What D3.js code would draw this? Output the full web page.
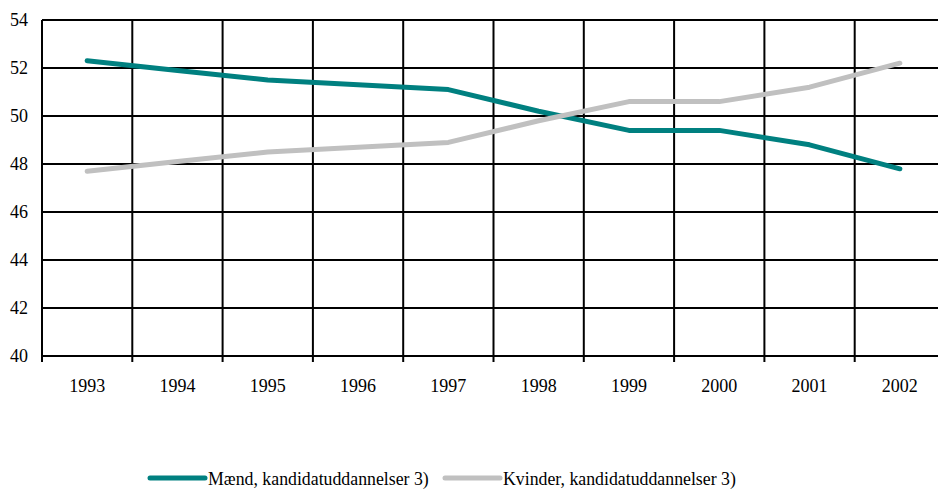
<!DOCTYPE html>
<html><head><meta charset="utf-8">
<script src="https://cdn.jsdelivr.net/npm/d3@7"></script>
</head><body style="margin:0">
<svg id="c" width="938" height="489" style="font-family:'Liberation Serif','Times New Roman',serif"></svg>
<script>
const years = ["1993","1994","1995","1996","1997","1998","1999","2000","2001","2002"];
const maend = [52.3,51.9,51.5,51.3,51.1,50.2,49.4,49.4,48.8,47.8];
const kvinder = [47.7,48.1,48.5,48.7,48.9,49.8,50.6,50.6,51.2,52.2];
const yTicks = [40,42,44,46,48,50,52,54];
const seriesNames = ["Mænd, kandidatuddannelser 3)","Kvinder, kandidatuddannelser 3)"];
const colors = ["#008080","#c0c0c0"];

(function(){
const svg = d3.select("#c");
const pL = 42, pR = 945, pT = 20, pB = 356;
const FF = "'Liberation Serif','Times New Roman',serif";
const x = d3.scaleBand().domain(years).range([pL, pR]);
const y = d3.scaleLinear().domain([40,54]).range([pB, pT]);

svg.append("g").selectAll("line").data(yTicks).join("line")
  .attr("x1", pL).attr("x2", pR)
  .attr("y1", d=>y(d)).attr("y2", d=>y(d))
  .attr("stroke","#000").attr("stroke-width",2);
const bounds = years.map(d=>x(d)).concat([x(years[years.length-1])+x.bandwidth()]);
svg.append("g").selectAll("line").data(bounds).join("line")
  .attr("x1", d=>d).attr("x2", d=>d)
  .attr("y1", pT).attr("y2", pB+6)
  .attr("stroke","#000").attr("stroke-width",2);

svg.append("g").selectAll("text").data(yTicks).join("text")
  .attr("x", 28).attr("y", d=>y(d)+6)
  .attr("text-anchor","end")
  .attr("font-family",FF).style("font-family",FF).style("font-size","18px").attr("fill","#000")
  .text(d=>d);
svg.append("g").selectAll("text").data(years).join("text")
  .attr("x", d=>x(d)+x.bandwidth()/2).attr("y", 392)
  .attr("text-anchor","middle")
  .attr("font-family",FF).style("font-family",FF).style("font-size","18px").attr("fill","#000")
  .text(d=>d);

const line = d3.line().x((d,i)=>x(years[i])+x.bandwidth()/2).y(d=>y(d));
[maend,kvinder].forEach((s,k)=>{
  svg.append("path").datum(s).attr("d",line)
    .attr("fill","none").attr("stroke",colors[k]).attr("stroke-width",5)
    .attr("stroke-linecap","round").attr("stroke-linejoin","round");
});

const leg = [{x0:150,tx:208},{x0:445,tx:503}];
leg.forEach((l,k)=>{
  svg.append("line").attr("x1",l.x0).attr("x2",l.x0+55).attr("y1",478).attr("y2",478)
    .attr("stroke",colors[k]).attr("stroke-width",5).attr("stroke-linecap","round");
  svg.append("text").attr("x",l.tx).attr("y",485)
    .attr("font-family",FF).style("font-family",FF).style("font-size","17.8px").attr("fill","#000")
    .text(seriesNames[k]);
});
})();
</script>
</body></html>
